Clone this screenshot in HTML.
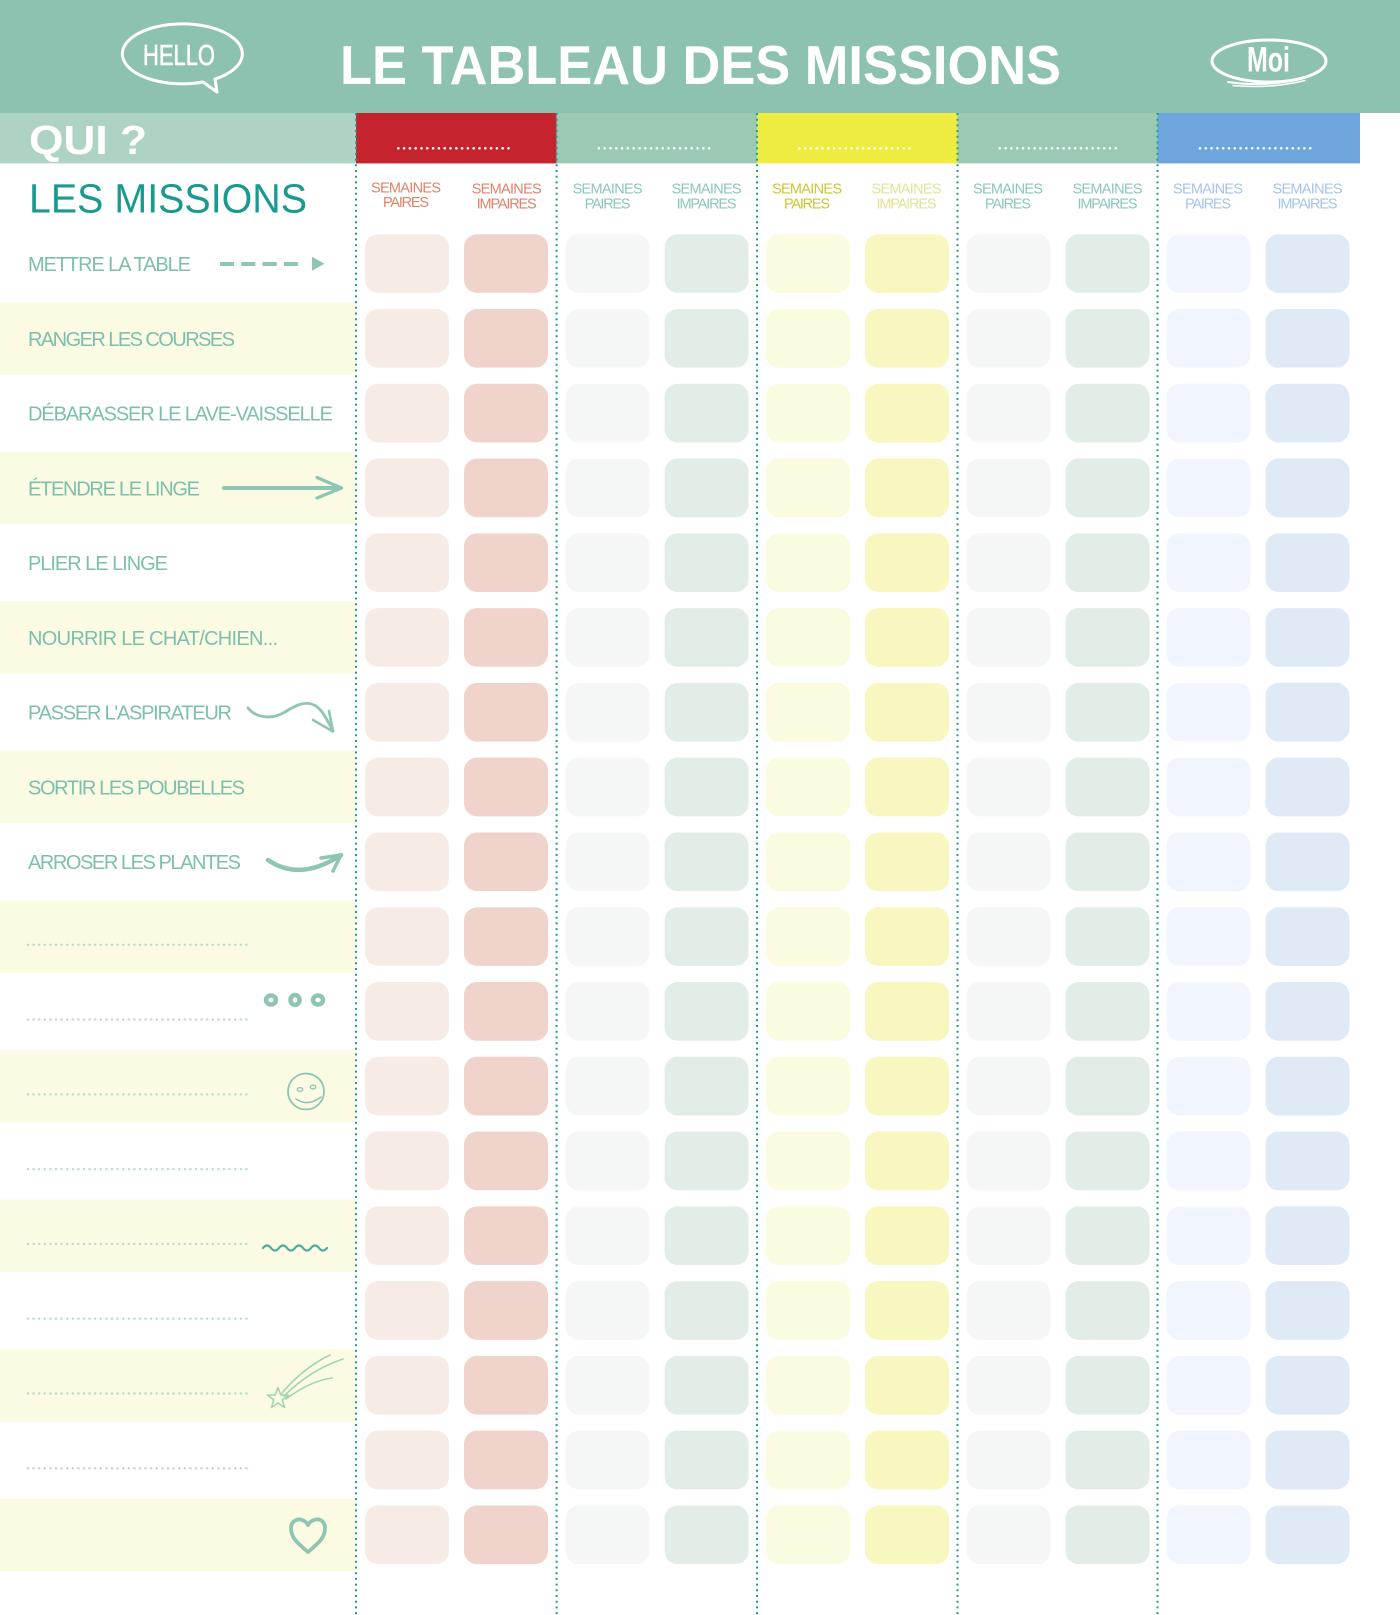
<!DOCTYPE html>
<html><head><meta charset="utf-8"><style>
html,body{margin:0;padding:0;background:#fff;}
svg{display:block;}
text{font-family:"Liberation Sans",sans-serif;}
</style></head><body>
<svg width="1400" height="1615" viewBox="0 0 1400 1615" xmlns="http://www.w3.org/2000/svg">
<defs>
<g id="cells">
<rect x="365" y="0" width="84" height="58.7" rx="13" fill="#f7ebe6"/>
<rect x="464" y="0" width="84" height="58.7" rx="13" fill="#f0d4cb"/>
<rect x="565.6" y="0" width="84" height="58.7" rx="13" fill="#f3f8f7"/>
<rect x="664.6" y="0" width="84" height="58.7" rx="13" fill="#e2ede7"/>
<rect x="766" y="0" width="84" height="58.7" rx="13" fill="#fbfbdf"/>
<rect x="865" y="0" width="84" height="58.7" rx="13" fill="#f8f7bf"/>
<rect x="966.5" y="0" width="84" height="58.7" rx="13" fill="#f3f8f7"/>
<rect x="1065.5" y="0" width="84" height="58.7" rx="13" fill="#e2ede7"/>
<rect x="1166.5" y="0" width="84" height="58.7" rx="13" fill="#f1f5fd"/>
<rect x="1265.5" y="0" width="84" height="58.7" rx="13" fill="#e0eaf7"/>
</g>
<rect id="band" x="0" y="0" width="356" height="72.5" fill="#fbfbe3"/>
<line id="dl" x1="28" y1="0" x2="247" y2="0" stroke="#b3dacd" stroke-width="2.4" stroke-linecap="round" stroke-dasharray="0 5.6"/>
</defs>

<!-- header -->
<rect x="0" y="0" width="1400" height="113" fill="#8dc2b1"/>
<text x="340" y="84" font-size="55" font-weight="bold" fill="#fff" textLength="721" lengthAdjust="spacingAndGlyphs">LE TABLEAU DES MISSIONS</text>

<!-- HELLO bubble -->
<path d="M215,79 A60,30 0 1,0 203,82 L217,92 L215,79" fill="none" stroke="#fff" stroke-width="3" stroke-linejoin="round" stroke-linecap="round"/>
<text x="143" y="65" font-size="29" fill="#fff" stroke="#fff" stroke-width="0.6" textLength="72" lengthAdjust="spacingAndGlyphs">HELLO</text>

<!-- Moi -->
<ellipse cx="1269" cy="61" rx="57" ry="21" fill="none" stroke="#fff" stroke-width="3"/>
<path d="M1228,82 Q1268,88 1307,77" fill="none" stroke="#fff" stroke-width="2" stroke-linecap="round"/>
<path d="M1233,85.5 Q1270,89 1305,80.5" fill="none" stroke="#fff" stroke-width="1.5" stroke-linecap="round"/>
<text x="1247" y="71.5" font-size="35" font-weight="bold" fill="#fff" textLength="43" lengthAdjust="spacingAndGlyphs">Moi</text>

<!-- QUI band -->
<rect x="0" y="113" width="356" height="50.4" fill="#aed3c2"/>
<text x="29" y="154" font-size="41" font-weight="bold" fill="#fff" textLength="118" lengthAdjust="spacingAndGlyphs">QUI ?</text>

<!-- header blocks -->
<rect x="356" y="113" width="200.6" height="50.4" fill="#c5242f"/>
<rect x="556.6" y="113" width="200.4" height="50.4" fill="#9cc9b4"/>
<rect x="757" y="113" width="200.5" height="50.4" fill="#eeec41"/>
<rect x="957.5" y="113" width="200" height="50.4" fill="#9cc9b4"/>
<rect x="1157.5" y="113" width="202.5" height="50.4" fill="#6fa5dd"/>
<g stroke="#fff" stroke-width="2.6" stroke-linecap="round" stroke-dasharray="0 5.8">
<line x1="398.3" y1="148.3" x2="514.3" y2="148.3"/>
<line x1="598.9" y1="148.3" x2="714.9" y2="148.3"/>
<line x1="799.3" y1="148.3" x2="915.3" y2="148.3"/>
<line x1="999.8" y1="148.3" x2="1115.8" y2="148.3"/>
<line x1="1200" y1="148.3" x2="1316" y2="148.3"/>
</g>

<!-- LES MISSIONS -->
<text x="29" y="212.5" font-size="41" fill="#189a8e" textLength="278" lengthAdjust="spacingAndGlyphs">LES MISSIONS</text>

<!-- column sub headers -->
<g font-size="14.5" text-anchor="middle" lengthAdjust="spacingAndGlyphs">
<text x="406" y="192.3" fill="#e08468" textLength="70">SEMAINES</text>
<text x="406" y="207.2" fill="#e08468" textLength="46">PAIRES</text>
<text x="506.7" y="193.3" fill="#e0826a" textLength="70">SEMAINES</text>
<text x="506.7" y="208.5" fill="#e0826a" textLength="60">IMPAIRES</text>

<text x="607.6" y="193.3" fill="#8cc6bc" textLength="70">SEMAINES</text>
<text x="607.6" y="208.3" fill="#8cc6bc" textLength="46">PAIRES</text>
<text x="706.6" y="193.3" fill="#8cc6bc" textLength="70">SEMAINES</text>
<text x="706.6" y="208.5" fill="#8cc6bc" textLength="60">IMPAIRES</text>

<text x="807" y="193.3" fill="#c8c832" textLength="70">SEMAINES</text>
<text x="807" y="208.3" fill="#c8c832" textLength="46">PAIRES</text>
<text x="906.5" y="193.3" fill="#e2e396" textLength="70">SEMAINES</text>
<text x="906.5" y="208.5" fill="#e2e396" textLength="60">IMPAIRES</text>

<text x="1008" y="193.3" fill="#8cc6bc" textLength="70">SEMAINES</text>
<text x="1008" y="208.3" fill="#8cc6bc" textLength="46">PAIRES</text>
<text x="1107.5" y="193.3" fill="#8cc6bc" textLength="70">SEMAINES</text>
<text x="1107.5" y="208.5" fill="#8cc6bc" textLength="60">IMPAIRES</text>

<text x="1208" y="193.3" fill="#a7c3ec" textLength="70">SEMAINES</text>
<text x="1208" y="208.3" fill="#a7c3ec" textLength="46">PAIRES</text>
<text x="1307.5" y="193.3" fill="#a7c3ec" textLength="70">SEMAINES</text>
<text x="1307.5" y="208.5" fill="#a7c3ec" textLength="60">IMPAIRES</text>
</g>

<!-- bands -->
<use href="#band" y="302.18"/>
<use href="#band" y="451.74"/>
<use href="#band" y="601.3"/>
<use href="#band" y="750.86"/>
<use href="#band" y="900.42"/>
<use href="#band" y="1049.98"/>
<use href="#band" y="1199.54"/>
<use href="#band" y="1349.1"/>
<use href="#band" y="1498.66"/>

<!-- cells -->
<use href="#cells" y="234.2"/>
<use href="#cells" y="308.98"/>
<use href="#cells" y="383.76"/>
<use href="#cells" y="458.54"/>
<use href="#cells" y="533.32"/>
<use href="#cells" y="608.1"/>
<use href="#cells" y="682.88"/>
<use href="#cells" y="757.66"/>
<use href="#cells" y="832.44"/>
<use href="#cells" y="907.22"/>
<use href="#cells" y="982"/>
<use href="#cells" y="1056.78"/>
<use href="#cells" y="1131.56"/>
<use href="#cells" y="1206.34"/>
<use href="#cells" y="1281.12"/>
<use href="#cells" y="1355.9"/>
<use href="#cells" y="1430.68"/>
<use href="#cells" y="1505.46"/>

<!-- vertical dotted lines -->
<g stroke="#1f9d94" stroke-width="2" stroke-dasharray="2 3.7">
<line x1="356" y1="113" x2="356" y2="1615"/>
<line x1="556.6" y1="113" x2="556.6" y2="1615"/>
<line x1="757" y1="113" x2="757" y2="1615"/>
<line x1="957.5" y1="113" x2="957.5" y2="1615"/>
<line x1="1157.5" y1="113" x2="1157.5" y2="1615"/>
</g>

<!-- mission labels -->
<g font-size="20" fill="#7cbfad" lengthAdjust="spacingAndGlyphs">
<text x="28" y="271" textLength="163">METTRE LA TABLE</text>
<text x="28" y="345.8" textLength="207">RANGER LES COURSES</text>
<text x="28" y="420.6" textLength="305">DÉBARASSER LE LAVE-VAISSELLE</text>
<text x="28" y="495.3" textLength="172">ÉTENDRE LE LINGE</text>
<text x="28" y="570.1" textLength="140">PLIER LE LINGE</text>
<text x="28" y="644.9" textLength="250">NOURRIR LE CHAT/CHIEN...</text>
<text x="28" y="719.7" textLength="204">PASSER L'ASPIRATEUR</text>
<text x="28" y="794.5" textLength="217">SORTIR LES POUBELLES</text>
<text x="28" y="869.2" textLength="213">ARROSER LES PLANTES</text>
</g>

<!-- dotted blank lines -->
<use href="#dl" y="944.8"/>
<use href="#dl" y="1019.6"/>
<use href="#dl" y="1094.4"/>
<use href="#dl" y="1169.2"/>
<use href="#dl" y="1243.9"/>
<use href="#dl" y="1318.7"/>
<use href="#dl" y="1393.5"/>
<use href="#dl" y="1468.3"/>

<!-- decorations -->
<g fill="none" stroke="#8ec5b3" stroke-linecap="round" stroke-linejoin="round">
<line x1="220" y1="264" x2="298" y2="264" stroke-width="4" stroke-linecap="butt" stroke-dasharray="14 7.3"/>
<polygon points="312,256.7 324.5,263.8 312,270.8" fill="#8ec5b3" stroke="none"/>
<line x1="224" y1="488" x2="340" y2="488" stroke-width="4"/>
<polyline points="317,477.5 341.5,488 317,498" stroke-width="3.2"/>
<path d="M248,708 C256,718 272,720 285,712 C296,705 306,700 316,706 C324,712 328,722 333,731" stroke-width="2.8"/>
<polyline points="313,720 333,731.5 329,711" stroke-width="2.6"/>
<path d="M268,860 Q300,882 341,855" stroke-width="4.5"/>
<polyline points="321,858 341,855 333,871" stroke-width="3.5"/>
<ellipse cx="271" cy="1000" rx="5" ry="4.5" stroke-width="4.5"/>
<ellipse cx="295" cy="1000" rx="4.5" ry="5" stroke-width="4.5"/>
<ellipse cx="318" cy="1000" rx="5" ry="4.5" stroke-width="4.5"/>
<circle cx="306" cy="1091.5" r="18" stroke-width="1.8"/>
<path d="M304,1073.5 Q316,1074 322,1082" stroke-width="1.2"/>
<ellipse cx="300" cy="1089.5" rx="2.8" ry="1.8" stroke-width="1.3"/>
<ellipse cx="313" cy="1087" rx="2.8" ry="1.8" stroke-width="1.3"/>
<path d="M296,1099 Q308,1107 321,1097" stroke-width="1.5"/>
<path d="M263,1248 q4,-5 8,0 t8,0 t8,0 t8,0 t8,0 t8,0 t8,0 t8,0" stroke="#4aaa9c" stroke-width="2.2"/>
<path d="M308,1552 C296,1542 291,1537 291,1528 C291,1521 298,1518 302,1520 C305,1521 307,1523 308,1525 C309,1523 311,1521 314,1520 C319,1518 325,1521 325,1528 C325,1537 320,1542 308,1552 Z" stroke-width="3.8"/>
</g>
<g fill="none" stroke="#a3d4b3" stroke-linecap="round" stroke-linejoin="round" stroke-width="1.6">
<polygon points="278,1387.5 280.7,1395 288.5,1395.1 282.3,1399.9 284.5,1407.5 278,1403 271.5,1407.5 273.7,1399.9 267.5,1395.1 275.3,1395"/>
<path d="M282,1393 Q303,1368 330,1355"/>
<path d="M284,1396 Q310,1370 343,1359"/>
<path d="M286,1399 Q310,1381 332,1378"/>
</g>
</svg>
</body></html>
